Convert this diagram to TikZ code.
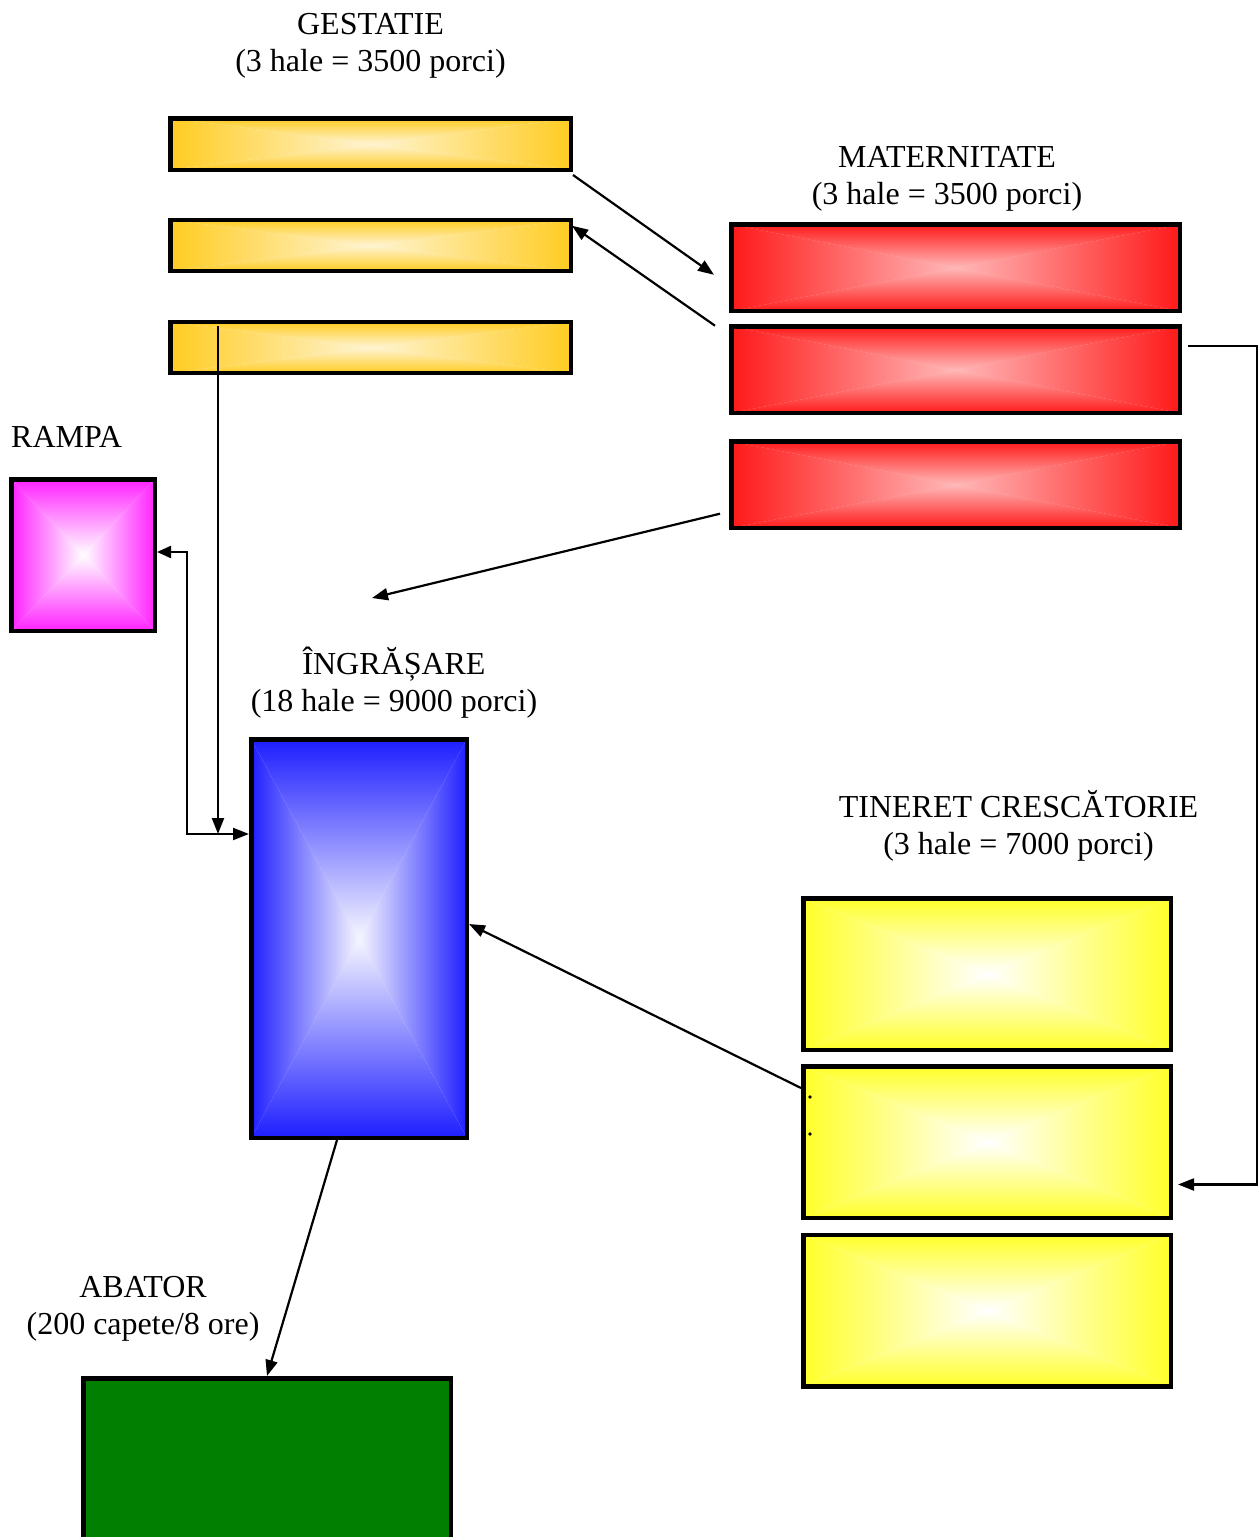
\documentclass[tikz,border=0pt]{standalone}
\usepackage{fontspec}
\setmainfont{Liberation Serif}
\usetikzlibrary{arrows.meta}

\definecolor{goldEdge}{HTML}{FFCC22}
\definecolor{goldMid}{HTML}{FFF4D2}
\definecolor{redEdge}{HTML}{FF1A1A}
\definecolor{redMid}{HTML}{FFB8B8}
\definecolor{pinkEdge}{HTML}{FF22FF}
\definecolor{pinkMid}{HTML}{FFFFFF}
\definecolor{blueEdge}{HTML}{1E1EFF}
\definecolor{blueMid}{HTML}{F6F6FF}
\definecolor{yelEdge}{HTML}{FFFF2A}
\definecolor{yelMid}{HTML}{FFFFFF}
\definecolor{abatorGreen}{HTML}{007F00}

\tikzset{
  % hall box: gradient running from every edge towards the centre,
  % built from four triangles that meet in the middle
  hall/.style 2 args={draw=black, line width=4.5pt, inner sep=0pt, fill=#2,
    path picture={
      \coordinate (hNW) at (path picture bounding box.north west);
      \coordinate (hNE) at (path picture bounding box.north east);
      \coordinate (hSW) at (path picture bounding box.south west);
      \coordinate (hSE) at (path picture bounding box.south east);
      \coordinate (hC)  at (path picture bounding box.center);
      \shade[top color=#1, middle color=#1!35!#2, bottom color=#2] (hNW) -- (hNE) -- (hC) -- cycle;
      \shade[top color=#2, middle color=#1!35!#2, bottom color=#1] (hSW) -- (hSE) -- (hC) -- cycle;
      \shade[left color=#1, middle color=#1!35!#2, right color=#2] (hNW) -- (hSW) -- (hC) -- cycle;
      \shade[left color=#2, middle color=#1!35!#2, right color=#1] (hNE) -- (hSE) -- (hC) -- cycle;
    }},
  lbl/.style={anchor=base, inner sep=0pt, font=\fontsize{32}{37}\selectfont},
  flow/.style={draw=black, line width=2.2pt, -{Triangle[length=16pt,width=12pt]}},
  both/.style={draw=black, line width=2.2pt, {Triangle[length=14pt,width=12pt]}-{Triangle[length=16pt,width=12pt]}},
}

\begin{document}
\begin{tikzpicture}[x=1pt, y=-1pt]
\useasboundingbox (0,0) rectangle (1260,1537);
\fill[white] (0,0) rectangle (1260,1537);

% gestation halls
\node[lbl] (gestName) at (370.5,34.5) {GESTATIE};
\node[lbl] (gestCap) at (370.5,71.5) {(3 hale = 3500 porci)};
\node[hall={goldEdge}{goldMid}, minimum width=400.5pt, minimum height=51.5pt] (g1) at (370.5,144) {};
\node[hall={goldEdge}{goldMid}, minimum width=400.5pt, minimum height=51pt] (g2) at (370.5,245.5) {};
\node[hall={goldEdge}{goldMid}, minimum width=400.5pt, minimum height=51pt] (g3) at (370.5,347.5) {};

% maternity halls
\node[lbl] (matName) at (947,167.5) {MATERNITATE};
\node[lbl] (matCap) at (947,204.5) {(3 hale = 3500 porci)};
\node[hall={redEdge}{redMid}, minimum width=448.5pt, minimum height=86.5pt] (m1) at (955.5,267.8) {};
\node[hall={redEdge}{redMid}, minimum width=448.5pt, minimum height=86.5pt] (m2) at (955.5,369.7) {};
\node[hall={redEdge}{redMid}, minimum width=448.5pt, minimum height=86.5pt] (m3) at (955.5,484.7) {};

% loading ramp
\node[lbl, anchor=base west] (rampName) at (11,447.5) {RAMPA};
\node[hall={pinkEdge}{pinkMid}, minimum width=143.5pt, minimum height=151.5pt] (r) at (83,555) {};

% fattening
\node[lbl] (fatName) at (394,674) {ÎNGRĂȘARE};
\node[lbl] (fatCap) at (394,711) {(18 hale = 9000 porci)};
\node[hall={blueEdge}{blueMid}, minimum width=215.5pt, minimum height=398.5pt] (i) at (359,938.5) {};

% weaners
\node[lbl] (youngName) at (1018.5,817) {TINERET CRESCĂTORIE};
\node[lbl] (youngCap) at (1018.5,854) {(3 hale = 7000 porci)};
\node[hall={yelEdge}{yelMid}, minimum width=367.5pt, minimum height=151.5pt] (t1) at (987,974) {};
\node[hall={yelEdge}{yelMid}, minimum width=367.5pt, minimum height=151.5pt] (t2) at (987,1142) {};
\node[hall={yelEdge}{yelMid}, minimum width=367.5pt, minimum height=151.5pt] (t3) at (987,1310.5) {};
\fill (810,1097) circle (1.8pt);
\fill (810,1134) circle (1.8pt);

% slaughterhouse
\node[lbl] (abName) at (143,1297.5) {ABATOR};
\node[lbl] (abCap) at (143,1334.5) {(200 capete/8 ore)};
\node[draw=black, line width=4.5pt, fill=abatorGreen, inner sep=0pt,
      minimum width=367.5pt, minimum height=182pt] (ab) at (267,1469.25) {};

% routing points
\coordinate (feed) at (218,834);
\coordinate (rampLane) at (187,0);
\coordinate (eastLane) at (1257,0);
\coordinate (nurseryDrop) at (372,598);
\coordinate (m2out) at ([xshift=6pt,yshift=24pt]m2.east);
\coordinate (t2in) at ([xshift=5pt,yshift=-42.5pt]t2.east);

% flows
\draw[flow] ([yshift=-3pt]g1.south east) -- ([xshift=-15pt,yshift=-7pt]m1.west);
\draw[flow] ([xshift=-14pt,yshift=-1.5pt]m2.north west) -- ([xshift=-1pt,yshift=-8pt]g2.north east);
\draw[flow] ([xshift=-152.5pt,yshift=-6pt]g3.north) -- (feed);
\draw[both] ([yshift=3pt]r.east) -| (rampLane |- feed) -- (feed -| i.west);
\draw[flow] ([xshift=-9pt,yshift=-29pt]m3.west) -- (nurseryDrop);
\draw[flow] (m2out) -- (m2out -| eastLane) -- (eastLane |- t2in) -- (t2in);
\draw[flow] ([yshift=54pt]t2.west) -- ([yshift=14.5pt]i.east);
\draw[flow] ([xshift=-22pt]i.south) -- (ab.north);
\end{tikzpicture}
\end{document}
